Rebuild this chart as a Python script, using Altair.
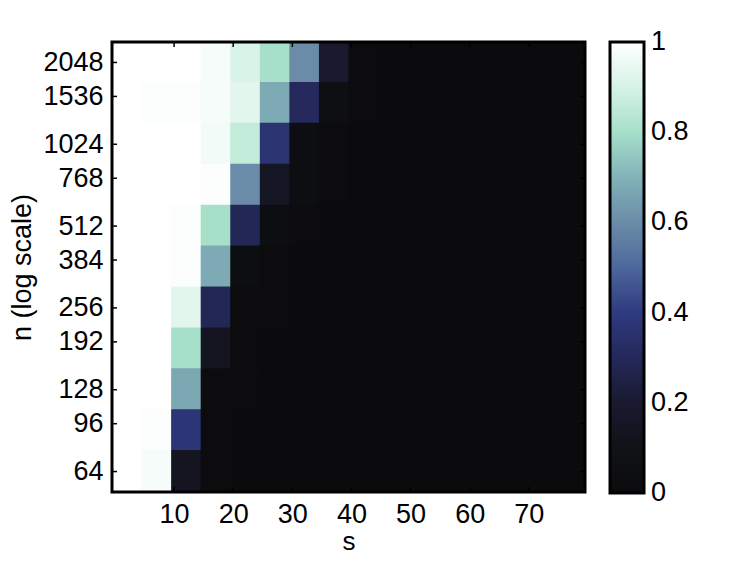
import altair as alt
import pandas as pd
import numpy as np

# ---- data ----
s_centers = [2, 7, 12, 17, 22, 27, 32, 37, 42, 47, 52, 57, 62, 67, 72, 77]
log2_n_rows = [11.0, 10.5, 10.0, 9.5, 9.0, 8.5, 8.0, 7.5, 7.0, 6.5, 6.0]

row_2048 = [1.00, 1.00, 1.00, 0.98, 0.91, 0.80, 0.60, 0.19, 0.01, 0, 0, 0, 0, 0, 0, 0]
row_1448 = [1.00, 0.99, 0.99, 0.98, 0.93, 0.68, 0.30, 0.05, 0.01, 0, 0, 0, 0, 0, 0, 0]
row_1024 = [1.00, 1.00, 1.00, 0.97, 0.86, 0.36, 0.04, 0.02, 0, 0, 0, 0, 0, 0, 0, 0]
row_724 = [1.00, 1.00, 1.00, 0.99, 0.60, 0.15, 0.04, 0.01, 0, 0, 0, 0, 0, 0, 0, 0]
row_512 = [1.00, 1.00, 0.99, 0.80, 0.29, 0.04, 0.01, 0, 0, 0, 0, 0, 0, 0, 0, 0]
row_362 = [1.00, 1.00, 0.99, 0.68, 0.04, 0.01, 0, 0, 0, 0, 0, 0, 0, 0, 0, 0]
row_256 = [1.00, 1.00, 0.93, 0.29, 0.02, 0.01, 0, 0, 0, 0, 0, 0, 0, 0, 0, 0]
row_181 = [1.00, 1.00, 0.80, 0.14, 0.01, 0, 0, 0, 0, 0, 0, 0, 0, 0, 0, 0]
row_128 = [1.00, 1.00, 0.67, 0.02, 0.01, 0, 0, 0, 0, 0, 0, 0, 0, 0, 0, 0]
row_91 = [1.00, 0.99, 0.37, 0.01, 0, 0, 0, 0, 0, 0, 0, 0, 0, 0, 0, 0]
row_64 = [1.00, 0.98, 0.14, 0.01, 0, 0, 0, 0, 0, 0, 0, 0, 0, 0, 0, 0]
rows = [row_2048, row_1448, row_1024, row_724, row_512, row_362,
        row_256, row_181, row_128, row_91, row_64]

x_ticks = [10, 20, 30, 40, 50, 60, 70]
y_ticks = [64, 96, 128, 192, 256, 384, 512, 768, 1024, 1536, 2048]
legend_ticks = [0, 0.2, 0.4, 0.6, 0.8, 1]

# colour map stops (ends nudged a hair outside [0,1] so that the end labels centre on the ends)
cmap_stops = [-0.001, 0.1, 0.2, 0.3, 0.4, 0.5, 0.6, 0.7, 0.8, 0.9, 1.001]
cmap_colors = ["#0b0b0d", "#111216", "#191a30", "#24285a", "#2f3a80", "#4d679c",
               "#6a8ca8", "#82b2b8", "#a6e0c9", "#d6f2e6", "#ffffff"]

# ---- build table (cells overlap by a hair to hide anti-aliasing seams) ----
recs = []
for l2, vals in zip(log2_n_rows, rows):
    for s, v in zip(s_centers, vals):
        recs.append({
            "s_lo": s - 2.5, "s_hi": s + 2.65,
            "n_lo": 2 ** (l2 - 0.25), "n_hi": 2 ** (l2 + 0.262),
            "p": v,
        })
df = pd.DataFrame(recs)

W, H = 473, 450
FONT = "Liberation Sans"
FS = 27
TFS = 27

xscale = alt.Scale(domain=[-0.5, 79.5], nice=False, zero=False)
yscale = alt.Scale(type="log", base=2, domain=[2 ** 5.75, 2 ** 11.25], nice=False)

heat = alt.Chart(df).mark_rect(strokeWidth=0, clip=True).encode(
    x=alt.X("s_lo:Q", scale=xscale,
            axis=alt.Axis(values=x_ticks, title="s", domain=False, ticks=False, grid=False,
                          labelPadding=9, titlePadding=1, labelFlush=False,
                          titleFontSize=26)),
    x2="s_hi:Q",
    y=alt.Y("n_lo:Q", scale=yscale,
            axis=alt.Axis(values=y_ticks, format="d", title="n (log scale)", domain=False,
                          ticks=False, grid=False, labelPadding=9, titlePadding=6,
                          labelFlush=False)),
    y2="n_hi:Q",
    color=alt.Color("p:Q",
                    scale=alt.Scale(domain=cmap_stops, range=cmap_colors, interpolate="rgb"),
                    legend=alt.Legend(type="gradient", title=None, orient="none",
                                      legendX=W + 25, legendY=0,
                                      direction="vertical", gradientLength=H + 1,
                                      gradientThickness=34, gradientStrokeColor="black",
                                      gradientStrokeWidth=3, values=legend_ticks,
                                      format="~g", labelFontSize=FS, labelFont=FONT,
                                      labelColor="black", labelOffset=7,
                                      labelBaseline="middle", labelOverlap=False,
                                      padding=0)),
)

ytick_df = pd.DataFrame({"n_lo": y_ticks})
xtick_df = pd.DataFrame({"s_lo": x_ticks})

yt_left = alt.Chart(ytick_df).mark_rule(color="black", strokeWidth=1.5).encode(
    y=alt.Y("n_lo:Q", scale=yscale), x=alt.value(0), x2=alt.value(5))
yt_right = alt.Chart(ytick_df).mark_rule(color="black", strokeWidth=1.5).encode(
    y=alt.Y("n_lo:Q", scale=yscale), x=alt.value(W - 5), x2=alt.value(W))
xt_bot = alt.Chart(xtick_df).mark_rule(color="black", strokeWidth=1.5).encode(
    x=alt.X("s_lo:Q", scale=xscale), y=alt.value(H - 5), y2=alt.value(H))
xt_top = alt.Chart(xtick_df).mark_rule(color="black", strokeWidth=1.5).encode(
    x=alt.X("s_lo:Q", scale=xscale), y=alt.value(0), y2=alt.value(5))

frame = alt.Chart(alt.Data(values=[{"a": 1}])).mark_rect(
    filled=False, stroke="black", strokeWidth=3).encode(
    x=alt.value(0), x2=alt.value(W), y=alt.value(0), y2=alt.value(H))

chart = alt.layer(heat, yt_left, yt_right, xt_bot, xt_top, frame).properties(
    width=W, height=H,
    autosize=alt.AutoSizeParams(type="none"),
    padding={"left": 104, "top": 34, "right": 150, "bottom": 61},
).configure_view(stroke="transparent").configure_axis(
    labelFont=FONT, titleFont=FONT, labelFontSize=FS, titleFontSize=TFS,
    labelColor="black", titleColor="black", titleFontWeight="normal",
)

chart.save("out.html", embed_options={"renderer": "svg", "actions": False})
